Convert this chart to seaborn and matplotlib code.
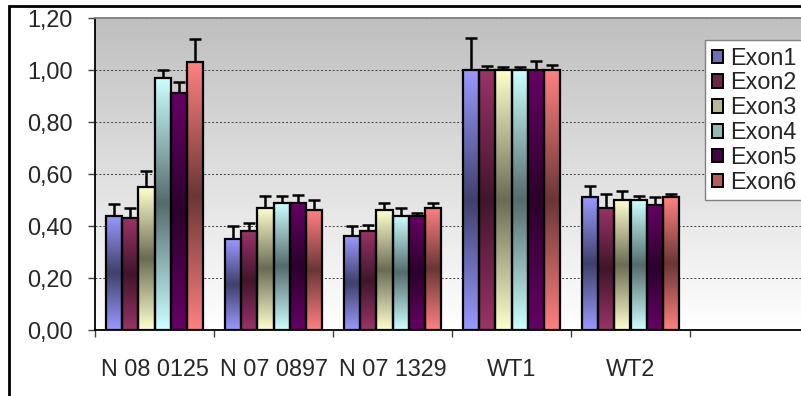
import numpy as np
import pandas as pd
import seaborn as sns
import matplotlib
matplotlib.use("Agg")
import matplotlib.pyplot as plt
from matplotlib.patches import Patch, Rectangle
from matplotlib.colors import to_rgb

# data
groups = ["N 08 0125", "N 07 0897", "N 07 1329", "WT1", "WT2"]
exons = ["Exon1", "Exon2", "Exon3", "Exon4", "Exon5", "Exon6"]

exon1 = [0.44, 0.35, 0.36, 1.00, 0.51]
exon2 = [0.43, 0.38, 0.38, 1.00, 0.47]
exon3 = [0.55, 0.47, 0.46, 1.00, 0.50]
exon4 = [0.97, 0.49, 0.44, 1.00, 0.50]
exon5 = [0.91, 0.49, 0.44, 1.00, 0.48]
exon6 = [1.03, 0.46, 0.47, 1.00, 0.51]

exon1_err = [0.045, 0.05, 0.04, 0.125, 0.045]
exon2_err = [0.04, 0.03, 0.025, 0.015, 0.055]
exon3_err = [0.06, 0.045, 0.03, 0.01, 0.035]
exon4_err = [0.03, 0.025, 0.03, 0.01, 0.015]
exon5_err = [0.045, 0.03, 0.01, 0.035, 0.03]
exon6_err = [0.09, 0.04, 0.02, 0.02, 0.015]

colors = ["#9999FF", "#993366", "#FFFFCC", "#CCFFFF", "#660066", "#FF8080"]

values = [exon1, exon2, exon3, exon4, exon5, exon6]
errors = [exon1_err, exon2_err, exon3_err, exon4_err, exon5_err, exon6_err]

df = pd.DataFrame({
    "group": np.tile(groups, len(exons)),
    "exon": np.repeat(exons, len(groups)),
    "value": np.concatenate(values),
})

sns.set_style("white")
plt.rcParams["font.family"] = ["Liberation Sans", "DejaVu Sans"]
FS = 16.8

fig = plt.figure(figsize=(8.01, 3.96), dpi=100)
ax = fig.add_axes([95 / 801, 66 / 396, 714 / 801, 312 / 396])

sns.barplot(data=df, x="group", y="value", hue="exon", order=groups,
            hue_order=exons, palette=colors, errorbar=None, width=0.81,
            gap=0, ax=ax, legend=False, zorder=3)

t = np.linspace(0, 1, 128)
shade = np.abs(2 * t - 1)  # 1 at ends, 0 at middle


def bar_gradient(c):
    base = np.array(to_rgb(c))
    dark = base * 0.42
    img = dark[None, :] + (base - dark)[None, :] * shade[:, None]
    return img[:, None, :]


bar_containers = list(ax.containers)
for i, cont in enumerate(bar_containers):
    grad = bar_gradient(colors[i])
    xs, tops = [], []
    for bar in cont:
        x0, y0 = bar.get_xy()
        w, h = bar.get_width(), bar.get_height()
        bar.set_facecolor("none")
        bar.set_edgecolor("black")
        bar.set_linewidth(1.6)
        im = ax.imshow(grad, extent=[x0, x0 + w, y0, y0 + h], aspect="auto",
                       origin="lower", zorder=2.9, interpolation="bilinear")
        im.set_clip_path(bar)
        xs.append(x0 + w / 2)
        tops.append(y0 + h)
    err = np.array(errors[i])
    ax.errorbar(xs, tops, yerr=[np.zeros_like(err), err], fmt="none",
                ecolor="black", elinewidth=1.8, capsize=4.3, capthick=1.8,
                zorder=2.5)

# plot area background gradient (gray top -> white bottom)
bg = np.linspace(1.0, 0.75, 128)
bg_img = np.dstack([bg, bg, bg]).reshape(128, 1, 3)
ax.imshow(bg_img, extent=[0, 1, 0, 1], transform=ax.transAxes,
          aspect="auto", origin="lower", zorder=-10)

ax.set_xlim(-0.5, 5.5)
ax.set_ylim(0, 1.2)

yt = np.arange(0, 1.21, 0.2)
ax.set_yticks(yt, labels=[f"{v:.2f}".replace(".", ",") for v in yt])
ax.yaxis.grid(True, color="#404040", linestyle=(0, (2, 2)), linewidth=0.7)
for gl in ax.get_ygridlines():
    gl.set_zorder(1)

ax.set_xticks(np.arange(-0.5, 6, 1), labels=[])
ax.set_xticks(range(len(groups)), labels=groups, minor=True)
ax.tick_params(axis="x", which="major", length=5, width=1, color="#404040",
               direction="out", bottom=True)
ax.tick_params(axis="x", which="minor", length=0, pad=20, labelsize=FS)
ax.tick_params(axis="y", length=5, width=1, color="#404040", direction="out",
               left=True, pad=11, labelsize=FS)
ax.set_xlabel("")
ax.set_ylabel("")

for s in ["left", "bottom"]:
    ax.spines[s].set_color("black")
    ax.spines[s].set_linewidth(1.3)
for s in ["top", "right"]:
    ax.spines[s].set_color("#808080")
    ax.spines[s].set_linewidth(1.3)

handles = []
for c in colors:
    base = np.array(to_rgb(c))
    handles.append(Patch(facecolor=base * 0.72, edgecolor="black",
                         linewidth=1.4))
leg = fig.legend(handles=handles, labels=exons, loc="upper left",
                 bbox_to_anchor=(705 / 801, 1 - 40 / 396),
                 bbox_transform=fig.transFigure, borderaxespad=0,
                 fontsize=FS, frameon=True, fancybox=False, framealpha=1,
                 edgecolor="#808080", facecolor="white", handlelength=0.5,
                 handleheight=0.5, handletextpad=0.3, labelspacing=0.08,
                 borderpad=0.28)
leg.get_frame().set_linewidth(1.0)

# outer chart border (cut by image edge on right/bottom)
fig.add_artist(Rectangle((9 / 801, -0.5), 1.5, 1 - 6 / 396 + 0.5,
                         transform=fig.transFigure, fill=False,
                         edgecolor="black", linewidth=2))

fig.savefig("out.png", dpi=100)
